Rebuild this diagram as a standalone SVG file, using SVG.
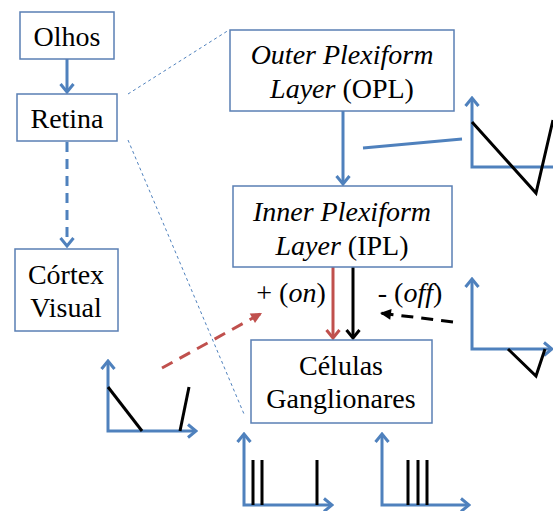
<svg xmlns="http://www.w3.org/2000/svg" width="553" height="511" viewBox="0 0 553 511">
  <defs>
    <marker id="chev-blue" markerUnits="userSpaceOnUse" viewBox="-11 -9 13 18" refX="0" refY="0" markerWidth="13" markerHeight="18" orient="auto-start-reverse">
      <path d="M-8,-6.5 L0,0 L-8,6.5" fill="none" stroke="#4f81bd" stroke-width="3"/>
    </marker>
    <marker id="chev-red" markerUnits="userSpaceOnUse" viewBox="-11 -9 13 18" refX="0" refY="0" markerWidth="13" markerHeight="18" orient="auto">
      <path d="M-8,-6.5 L0,0 L-8,6.5" fill="none" stroke="#c0504d" stroke-width="3"/>
    </marker>
    <marker id="chev-black" markerUnits="userSpaceOnUse" viewBox="-11 -9 13 18" refX="0" refY="0" markerWidth="13" markerHeight="18" orient="auto">
      <path d="M-8,-6.5 L0,0 L-8,6.5" fill="none" stroke="#000" stroke-width="3"/>
    </marker>
    <marker id="tri-red" markerUnits="userSpaceOnUse" viewBox="-12 -7 13 14" refX="0" refY="0" markerWidth="13" markerHeight="14" orient="auto">
      <path d="M-11,-5.5 L0,0 L-11,5.5 Z" fill="#c0504d"/>
    </marker>
    <marker id="tri-black" markerUnits="userSpaceOnUse" viewBox="-12 -7 13 14" refX="0" refY="0" markerWidth="13" markerHeight="14" orient="auto">
      <path d="M-11,-5.5 L0,0 L-11,5.5 Z" fill="#000"/>
    </marker>
  </defs>

  <!-- zoom guides from Retina to the layer detail -->
  <g id="guides" stroke="#4f81bd" stroke-width="1" fill="none" stroke-dasharray="3 3">
    <line x1="128" y1="94" x2="229" y2="30"/>
    <line x1="128" y1="140" x2="244" y2="414"/>
  </g>

  <!-- connectors -->
  <g id="connectors" stroke-width="3" fill="none">
    <line stroke="#4f81bd" x1="67" y1="59" x2="67" y2="92" marker-end="url(#chev-blue)"/>
    <line stroke="#4f81bd" x1="67" y1="142" x2="67" y2="246" stroke-dasharray="10 7" marker-end="url(#chev-blue)"/>
    <line stroke="#4f81bd" x1="343" y1="111" x2="343" y2="184" marker-end="url(#chev-blue)"/>
    <line stroke="#4f81bd" x1="363" y1="148" x2="462" y2="139"/>
    <line stroke="#c0504d" x1="333" y1="267" x2="333" y2="338" marker-end="url(#chev-red)"/>
    <line stroke="#000" x1="353" y1="267" x2="353" y2="338" marker-end="url(#chev-black)"/>
    <line stroke="#c0504d" x1="162" y1="368" x2="262" y2="313" stroke-dasharray="12 8" marker-end="url(#tri-red)"/>
    <line stroke="#000" x1="453" y1="322" x2="380" y2="313" stroke-dasharray="12 8" marker-end="url(#tri-black)"/>
  </g>

  <!-- nodes: shared box and label look set on the wrapper -->
  <g id="nodes" font-family="Liberation Serif" font-size="28" text-anchor="middle" fill="#000">
    <g id="olhos">
      <rect fill="#fff" stroke="#5a7fb4" stroke-width="1.5" x="20" y="12" width="94" height="47"/>
      <text x="67" y="46">Olhos</text>
    </g>
    <g id="retina">
      <rect fill="#fff" stroke="#5a7fb4" stroke-width="1.5" x="17" y="94" width="100" height="47"/>
      <text x="67" y="128">Retina</text>
    </g>
    <g id="cortex">
      <rect fill="#fff" stroke="#5a7fb4" stroke-width="1.5" x="15" y="249" width="103" height="82"/>
      <text x="66" y="284">Córtex</text>
      <text x="66" y="317">Visual</text>
    </g>
    <g id="opl">
      <rect fill="#fff" stroke="#5a7fb4" stroke-width="1.5" x="230" y="30" width="224" height="81"/>
      <text x="342" y="64" font-style="italic">Outer Plexiform</text>
      <text x="342" y="98"><tspan font-style="italic">Layer</tspan> (OPL)</text>
    </g>
    <g id="ipl">
      <rect fill="#fff" stroke="#5a7fb4" stroke-width="1.5" x="233" y="186" width="219" height="81"/>
      <text x="342" y="221" font-style="italic">Inner Plexiform</text>
      <text x="342" y="255"><tspan font-style="italic">Layer</tspan> (IPL)</text>
    </g>
    <g id="ganglionares">
      <rect fill="#fff" stroke="#5a7fb4" stroke-width="1.5" x="251" y="340" width="181" height="83"/>
      <text x="341" y="375">Células</text>
      <text x="341" y="408">Ganglionares</text>
    </g>
    <g id="labels">
      <text x="291" y="302">+ (<tspan font-style="italic">on</tspan>)</text>
      <text x="410" y="302">- (<tspan font-style="italic">off</tspan>)</text>
    </g>
  </g>

  <!-- response plots: blue axes, black traces -->
  <g id="plots" stroke-width="3" fill="none">
    <g id="plot-opl">
      <polyline stroke="#4f81bd" points="472,98 472,167 553,167" marker-start="url(#chev-blue)"/>
      <polyline stroke="#000" points="472,122 536,193 553,120"/>
    </g>
    <g id="plot-off">
      <polyline stroke="#4f81bd" points="472,279 472,349 552,349" marker-start="url(#chev-blue)" marker-end="url(#chev-blue)"/>
      <polyline stroke="#000" points="508,349 536,376 545,349"/>
    </g>
    <g id="plot-on">
      <polyline stroke="#4f81bd" points="108,361 108,431 196,431" marker-start="url(#chev-blue)" marker-end="url(#chev-blue)"/>
      <line stroke="#000" x1="108" y1="387" x2="142" y2="431"/>
      <line stroke="#000" x1="180" y1="431" x2="189" y2="387"/>
    </g>
    <g id="spikes-a">
      <polyline stroke="#4f81bd" points="244,434 244,505 332,505" marker-start="url(#chev-blue)" marker-end="url(#chev-blue)"/>
      <path stroke="#000" d="M253,460 V505 M262,460 V505 M317,460 V505"/>
    </g>
    <g id="spikes-b">
      <polyline stroke="#4f81bd" points="382,434 382,505 469,505" marker-start="url(#chev-blue)" marker-end="url(#chev-blue)"/>
      <path stroke="#000" d="M408,460 V505 M418,460 V505 M427,460 V505"/>
    </g>
  </g>
</svg>
